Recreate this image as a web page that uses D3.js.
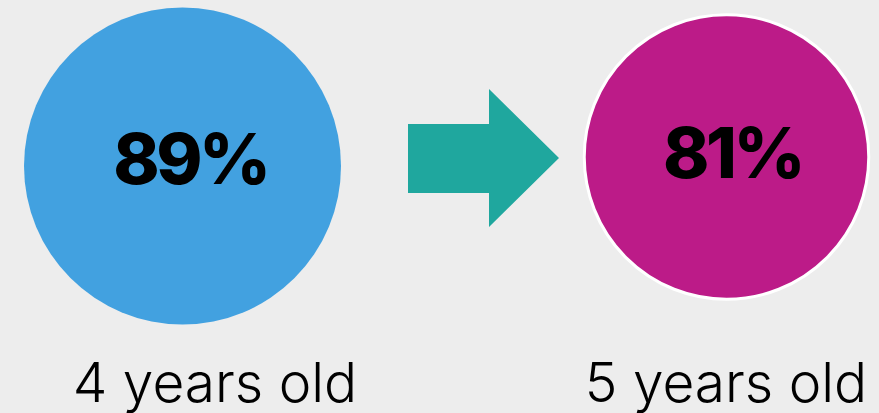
<!DOCTYPE html>
<html>
<head>
<meta charset="utf-8">
<script src="https://cdn.jsdelivr.net/npm/d3@7"></script>
<style>
  html, body { margin: 0; padding: 0; background: #ededed; }
  svg { display: block; }
</style>
</head>
<body>
<div id="chart"></div>
<script>
// data
var ages = ["4 years old", "5 years old"];
var shares = [89, 81];
var colours = ["#42a1e0", "#bc1b88"];

var width = 879, height = 413;

var svg = d3.select("#chart").append("svg")
    .attr("width", width)
    .attr("height", height);

svg.append("rect")
    .attr("width", width).attr("height", height)
    .attr("fill", "#ededed");

// circle positions along x, label positions are offset a little
var xCircle = d3.scalePoint().domain(ages).range([182.5, 726.5]);
var xLabel = d3.scalePoint().domain(ages).range([215, 726]);
var xValue = d3.scalePoint().domain(ages).range([190.5, 732.5]);
var yCircle = d3.scalePoint().domain(ages).range([166, 157]);
var yValue = d3.scalePoint().domain(ages).range([184, 178]);

// radius grows with the share
var r = d3.scaleLinear().domain([0, 89]).range([0, 158.5]);

var rows = ages.map(function(a, i) {
    return {age: a, share: shares[i], colour: colours[i]};
});

svg.selectAll("circle.bubble")
    .data(rows)
    .join("circle")
    .attr("class", "bubble")
    .attr("cx", function(d) { return xCircle(d.age); })
    .attr("cy", function(d) { return yCircle(d.age); })
    .attr("r", function(d, i) { return i === 0 ? r(d.share) : r(d.share) - 2; })
    .attr("fill", function(d) { return d.colour; })
    .attr("stroke", function(d, i) { return i === 0 ? "none" : "#ffffff"; })
    .attr("stroke-width", 3);

svg.selectAll("text.value")
    .data(rows)
    .join("text")
    .attr("class", "value")
    .attr("x", function(d) { return xValue(d.age); })
    .attr("y", function(d) { return yValue(d.age); })
    .attr("text-anchor", "middle")
    .style("font-family", "Inter, 'Noto Sans', sans-serif")
    .style("font-weight", 800)
    .style("font-size", "70px")
    .style("letter-spacing", "-3.5px")
    .attr("fill", "#000")
    .text(function(d) { return d.share + "%"; });

svg.selectAll("text.age")
    .data(rows)
    .join("text")
    .attr("class", "age")
    .attr("x", function(d) { return xLabel(d.age); })
    .attr("y", 402)
    .attr("text-anchor", "middle")
    .style("font-family", "Inter, 'Noto Sans', sans-serif")
    .style("font-weight", 300)
    .style("font-size", "55px")
    .attr("fill", "#000")
    .text(function(d) { return d.age; });

// arrow between the two circles
var ax0 = 408, ax1 = 489, tip = 559, midY = 158;
var p = d3.path();
p.moveTo(ax0, 124);
p.lineTo(ax1, 124);
p.lineTo(ax1, 89);
p.lineTo(tip, midY);
p.lineTo(ax1, 227);
p.lineTo(ax1, 193);
p.lineTo(ax0, 193);
p.closePath();
svg.append("path")
    .attr("d", p.toString())
    .attr("fill", "#1fa79e");
</script>
</body>
</html>
